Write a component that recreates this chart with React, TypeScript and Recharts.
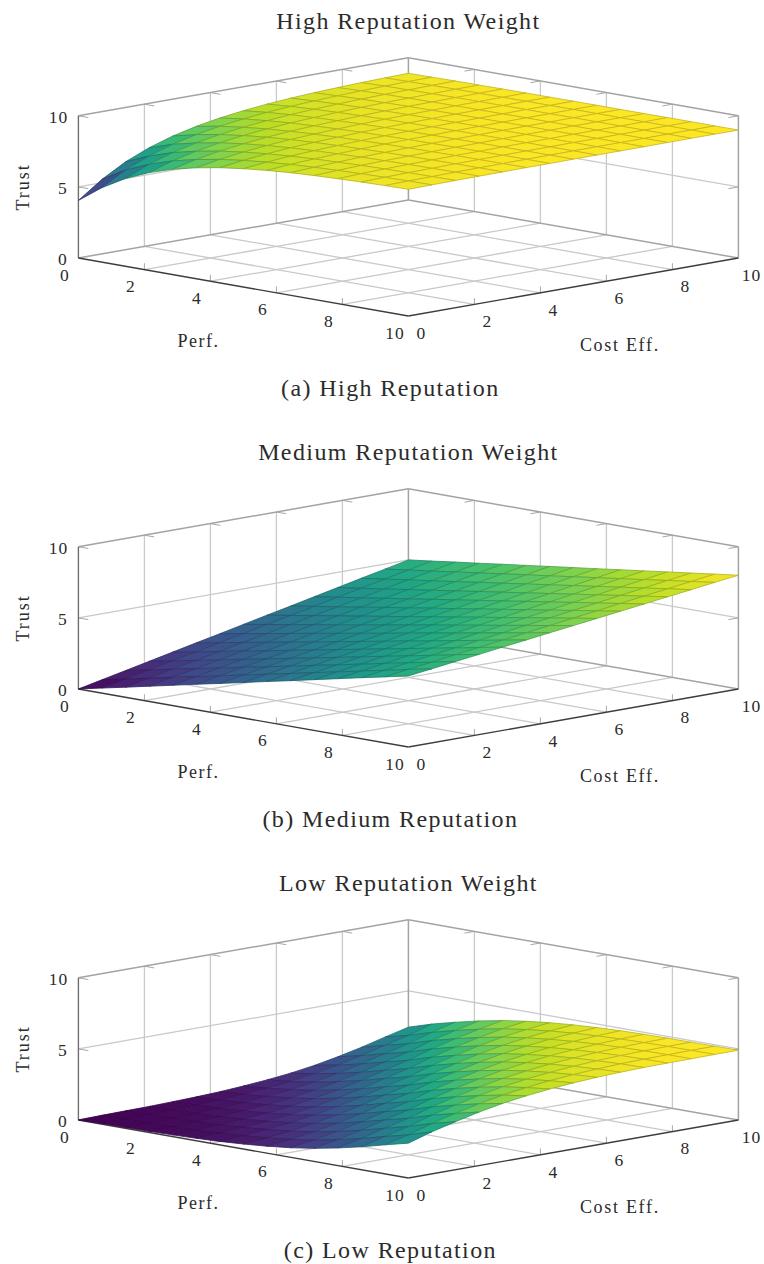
import { ScatterChart, Scatter, XAxis, YAxis } from "recharts";

const FONT = "'Liberation Serif', serif";

// Sample positions on both horizontal axes (15 samples per axis)
const samples = [0, 0.714, 1.429, 2.143, 2.857, 3.571, 4.286, 5, 5.714, 6.429, 7.143, 7.857, 8.571, 9.286, 10];

const perfTicks = [0, 2, 4, 6, 8, 10];
const costTicks = [0, 2, 4, 6, 8, 10];
const trustTicks = [0, 5, 10];

// Trust values: rows are Cost Eff., columns are Perf.
const highTrust = [
  [4.05, 5.24, 6.18, 6.88, 7.41, 7.8, 8.1, 8.32, 8.49, 8.62, 8.71, 8.78, 8.84, 8.88, 8.91],
  [5.24, 6.18, 6.88, 7.41, 7.8, 8.1, 8.32, 8.49, 8.62, 8.71, 8.78, 8.84, 8.88, 8.91, 8.93],
  [6.18, 6.88, 7.41, 7.8, 8.1, 8.32, 8.49, 8.62, 8.71, 8.78, 8.84, 8.88, 8.91, 8.93, 8.95],
  [6.88, 7.41, 7.8, 8.1, 8.32, 8.49, 8.62, 8.71, 8.78, 8.84, 8.88, 8.91, 8.93, 8.95, 8.96],
  [7.41, 7.8, 8.1, 8.32, 8.49, 8.62, 8.71, 8.78, 8.84, 8.88, 8.91, 8.93, 8.95, 8.96, 8.97],
  [7.8, 8.1, 8.32, 8.49, 8.62, 8.71, 8.78, 8.84, 8.88, 8.91, 8.93, 8.95, 8.96, 8.97, 8.98],
  [8.1, 8.32, 8.49, 8.62, 8.71, 8.78, 8.84, 8.88, 8.91, 8.93, 8.95, 8.96, 8.97, 8.98, 8.98],
  [8.32, 8.49, 8.62, 8.71, 8.78, 8.84, 8.88, 8.91, 8.93, 8.95, 8.96, 8.97, 8.98, 8.98, 8.99],
  [8.49, 8.62, 8.71, 8.78, 8.84, 8.88, 8.91, 8.93, 8.95, 8.96, 8.97, 8.98, 8.98, 8.99, 8.99],
  [8.62, 8.71, 8.78, 8.84, 8.88, 8.91, 8.93, 8.95, 8.96, 8.97, 8.98, 8.98, 8.99, 8.99, 8.99],
  [8.71, 8.78, 8.84, 8.88, 8.91, 8.93, 8.95, 8.96, 8.97, 8.98, 8.98, 8.99, 8.99, 8.99, 8.99],
  [8.78, 8.84, 8.88, 8.91, 8.93, 8.95, 8.96, 8.97, 8.98, 8.98, 8.99, 8.99, 8.99, 8.99, 9],
  [8.84, 8.88, 8.91, 8.93, 8.95, 8.96, 8.97, 8.98, 8.98, 8.99, 8.99, 8.99, 8.99, 9, 9],
  [8.88, 8.91, 8.93, 8.95, 8.96, 8.97, 8.98, 8.98, 8.99, 8.99, 8.99, 8.99, 9, 9, 9],
  [8.91, 8.93, 8.95, 8.96, 8.97, 8.98, 8.98, 8.99, 8.99, 8.99, 8.99, 9, 9, 9, 9],
];

const mediumTrust = [
  [0, 0.36, 0.71, 1.07, 1.43, 1.79, 2.14, 2.5, 2.86, 3.21, 3.57, 3.93, 4.29, 4.64, 5],
  [0.36, 0.7, 1.05, 1.4, 1.74, 2.09, 2.44, 2.79, 3.13, 3.48, 3.83, 4.17, 4.52, 4.87, 5.21],
  [0.71, 1.05, 1.39, 1.72, 2.06, 2.4, 2.73, 3.07, 3.41, 3.74, 4.08, 4.42, 4.76, 5.09, 5.43],
  [1.07, 1.4, 1.72, 2.05, 2.38, 2.7, 3.03, 3.36, 3.68, 4.01, 4.34, 4.66, 4.99, 5.32, 5.64],
  [1.43, 1.74, 2.06, 2.38, 2.69, 3.01, 3.33, 3.64, 3.96, 4.27, 4.59, 4.91, 5.22, 5.54, 5.86],
  [1.79, 2.09, 2.4, 2.7, 3.01, 3.32, 3.62, 3.93, 4.23, 4.54, 4.85, 5.15, 5.46, 5.77, 6.07],
  [2.14, 2.44, 2.73, 3.03, 3.33, 3.62, 3.92, 4.21, 4.51, 4.81, 5.1, 5.4, 5.69, 5.99, 6.29],
  [2.5, 2.79, 3.07, 3.36, 3.64, 3.93, 4.21, 4.5, 4.79, 5.07, 5.36, 5.64, 5.93, 6.21, 6.5],
  [2.86, 3.13, 3.41, 3.68, 3.96, 4.23, 4.51, 4.79, 5.06, 5.34, 5.61, 5.89, 6.16, 6.44, 6.71],
  [3.21, 3.48, 3.74, 4.01, 4.28, 4.54, 4.81, 5.07, 5.34, 5.6, 5.87, 6.13, 6.4, 6.66, 6.93],
  [3.57, 3.83, 4.08, 4.34, 4.59, 4.85, 5.1, 5.36, 5.61, 5.87, 6.12, 6.38, 6.63, 6.89, 7.14],
  [3.93, 4.17, 4.42, 4.66, 4.91, 5.15, 5.4, 5.64, 5.89, 6.13, 6.38, 6.62, 6.87, 7.11, 7.36],
  [4.29, 4.52, 4.76, 4.99, 5.22, 5.46, 5.69, 5.93, 6.16, 6.4, 6.63, 6.87, 7.1, 7.34, 7.57],
  [4.64, 4.87, 5.09, 5.32, 5.54, 5.77, 5.99, 6.21, 6.44, 6.66, 6.89, 7.11, 7.34, 7.56, 7.79],
  [5, 5.21, 5.43, 5.64, 5.86, 6.07, 6.29, 6.5, 6.71, 6.93, 7.14, 7.36, 7.57, 7.79, 8],
];

const lowTrust = [
  [0, 0.04, 0.06, 0.08, 0.12, 0.17, 0.24, 0.35, 0.49, 0.67, 0.92, 1.24, 1.61, 2.04, 2.45],
  [0.04, 0.06, 0.08, 0.12, 0.17, 0.24, 0.35, 0.49, 0.67, 0.92, 1.24, 1.61, 2.04, 2.45, 2.96],
  [0.06, 0.08, 0.12, 0.17, 0.24, 0.35, 0.49, 0.67, 0.92, 1.24, 1.61, 2.04, 2.45, 2.96, 3.38],
  [0.08, 0.12, 0.17, 0.24, 0.35, 0.49, 0.67, 0.92, 1.24, 1.61, 2.04, 2.45, 2.96, 3.38, 3.76],
  [0.12, 0.17, 0.24, 0.35, 0.49, 0.67, 0.92, 1.24, 1.61, 2.04, 2.45, 2.96, 3.38, 3.76, 4.08],
  [0.17, 0.24, 0.35, 0.49, 0.67, 0.92, 1.24, 1.61, 2.04, 2.45, 2.96, 3.38, 3.76, 4.08, 4.32],
  [0.24, 0.35, 0.49, 0.67, 0.92, 1.24, 1.61, 2.04, 2.45, 2.96, 3.38, 3.76, 4.08, 4.32, 4.51],
  [0.35, 0.49, 0.67, 0.92, 1.24, 1.61, 2.04, 2.45, 2.96, 3.38, 3.76, 4.08, 4.32, 4.51, 4.65],
  [0.49, 0.67, 0.92, 1.24, 1.61, 2.04, 2.45, 2.96, 3.38, 3.76, 4.08, 4.32, 4.51, 4.65, 4.75],
  [0.67, 0.92, 1.24, 1.61, 2.04, 2.45, 2.96, 3.38, 3.76, 4.08, 4.32, 4.51, 4.65, 4.75, 4.82],
  [0.92, 1.24, 1.61, 2.04, 2.45, 2.96, 3.38, 3.76, 4.08, 4.32, 4.51, 4.65, 4.75, 4.82, 4.86],
  [1.24, 1.61, 2.04, 2.45, 2.96, 3.38, 3.76, 4.08, 4.32, 4.51, 4.65, 4.75, 4.82, 4.86, 4.88],
  [1.61, 2.04, 2.45, 2.96, 3.38, 3.76, 4.08, 4.32, 4.51, 4.65, 4.75, 4.82, 4.86, 4.88, 4.89],
  [2.04, 2.45, 2.96, 3.38, 3.76, 4.08, 4.32, 4.51, 4.65, 4.75, 4.82, 4.86, 4.88, 4.89, 4.9],
  [2.45, 2.96, 3.38, 3.76, 4.08, 4.32, 4.51, 4.65, 4.75, 4.82, 4.86, 4.88, 4.89, 4.9, 4.91],
];

const viridis = [
  [68, 1, 84], [72, 36, 117], [65, 68, 135], [53, 95, 141], [42, 120, 142], [33, 145, 140],
  [34, 168, 132], [68, 191, 112], [122, 209, 81], [189, 223, 38], [253, 231, 37],
];

// isometric-style view: plot x/y/z to the two chart axes
const project = (x: number, y: number, z: number) => ({
  u: x + y,
  v: 5.8 * (y - x) + 14.22 * z,
});

const WIDTH = 764;
const HEIGHT = 402;
const uDomain = [-78.4 / 33, (WIDTH - 78.4) / 33];
const vDomain = [258 - HEIGHT, 258];

function mapped(t: number, shade = 1) {
  const pos = Math.min(Math.max(t, 0), 1) * (viridis.length - 1);
  const i = Math.min(Math.floor(pos), viridis.length - 2);
  const f = pos - i;
  const c = viridis[i].map((a, k) => Math.round((a + (viridis[i + 1][k] - a) * f) * shade));
  return `rgb(${c.join(",")})`;
}

const NoMark = () => null;

function TextMark(props: any) {
  const { cx, cy, payload } = props;
  const x = cx + (payload.dx ?? 0);
  const y = cy + (payload.dy ?? 0);
  return (
    <text
      x={x}
      y={y}
      textAnchor="middle"
      dominantBaseline="central"
      fontFamily={FONT}
      fontSize={payload.size}
      letterSpacing={payload.spacing ?? 0}
      fill="#2b2b2b"
      transform={payload.rotate ? `rotate(${payload.rotate} ${x} ${y})` : undefined}
    >
      {payload.text}
    </text>
  );
}

function segment(key: string, a: number[], b: number[], stroke: string, width: number) {
  return (
    <Scatter
      key={key}
      data={[project(a[0], a[1], a[2]), project(b[0], b[1], b[2])]}
      line={{ stroke, strokeWidth: width }}
      shape={NoMark}
      isAnimationActive={false}
    />
  );
}

function TrustSurface({ title, caption, trust, top }: { title: string; caption: string; trust: number[][]; top: number }) {
  const flat = trust.flat();
  const min = Math.min(...flat);
  const max = Math.max(...flat);

  const grid: any[] = [];
  const GRID = "#c9c9c9";
  const FRAME = "#a3a3a3";
  const TICK = "#a8a8a8";

  perfTicks.slice(1, -1).forEach((t) => {
    grid.push(segment(`fx${t}`, [t, 0, 0], [t, 10, 0], GRID, 1.3));
    grid.push(segment(`wx${t}`, [t, 10, 0], [t, 10, 10], GRID, 1.3));
    grid.push(segment(`tx${t}`, [t, 0, 0], [t, 0, 0.45], TICK, 1));
    grid.push(segment(`mx${t}`, [t, 10, 10], [t, 9.7, 10], TICK, 1));
  });
  costTicks.slice(1, -1).forEach((t) => {
    grid.push(segment(`fy${t}`, [0, t, 0], [10, t, 0], GRID, 1.3));
    grid.push(segment(`wy${t}`, [0, t, 0], [0, t, 10], GRID, 1.3));
    grid.push(segment(`ty${t}`, [10, t, 0], [10, t, 0.45], TICK, 1));
    grid.push(segment(`my${t}`, [0, t, 10], [0.3, t, 10], TICK, 1));
  });
  grid.push(segment("z5a", [0, 0, 5], [0, 10, 5], GRID, 1.3));
  grid.push(segment("z5b", [0, 10, 5], [10, 10, 5], GRID, 1.3));
  grid.push(segment("t5a", [0, 0, 5], [0.3, 0, 5], TICK, 1));
  grid.push(segment("t5b", [10, 10, 5], [10, 9.7, 5], TICK, 1));
  grid.push(segment("t10a", [0, 0, 10], [0.3, 0, 10], TICK, 1));
  grid.push(segment("t10b", [10, 10, 10], [10, 9.7, 10], TICK, 1));

  // box outline
  const frame = [
    segment("b1", [0, 0, 10], [0, 10, 10], FRAME, 1.5),
    segment("b2", [0, 10, 10], [10, 10, 10], FRAME, 1.5),
    segment("b3", [0, 10, 0], [0, 10, 10], FRAME, 1.5),
    segment("b4", [10, 10, 0], [10, 10, 10], FRAME, 1.5),
    segment("b5", [0, 0, 0], [0, 10, 0], FRAME, 1.5),
    segment("b6", [0, 10, 0], [10, 10, 0], FRAME, 1.5),
    segment("b7", [0, 0, 0], [0, 0, 10], "#6e6e6e", 1.4),
    segment("b8", [0, 0, 0], [10, 0, 0], "#3d3d3d", 1.4),
    segment("b9", [10, 0, 0], [10, 10, 0], "#3d3d3d", 1.4),
  ];

  // painter's order: far rows first
  const cells: any[] = [];
  for (let j = samples.length - 2; j >= 0; j--) {
    for (let i = 0; i < samples.length - 1; i++) {
      const z00 = trust[j][i];
      const z10 = trust[j][i + 1];
      const z11 = trust[j + 1][i + 1];
      const z01 = trust[j + 1][i];
      const t = ((z00 + z10 + z11 + z01) / 4 - min) / (max - min);
      const data = [
        project(samples[i], samples[j], z00),
        project(samples[i + 1], samples[j], z10),
        project(samples[i + 1], samples[j + 1], z11),
        project(samples[i], samples[j + 1], z01),
        project(samples[i], samples[j], z00),
      ];
      cells.push(
        <Scatter
          key={`c${j}-${i}`}
          data={data}
          line={{ fill: mapped(t), stroke: mapped(t, 0.78), strokeWidth: 0.8 }}
          shape={NoMark}
          isAnimationActive={false}
        />
      );
    }
  }

  const labels = [
    ...perfTicks.map((t) => ({ ...project(t, 0, 0), dx: -13.5, dy: 16.5, text: String(t), size: 17.5, spacing: 1 })),
    ...costTicks.map((t) => ({ ...project(10, t, 0), dx: 13, dy: 16.8, text: String(t), size: 17.5, spacing: 1 })),
    ...trustTicks.map((t) => ({ ...project(0, 0, t), dx: t === 10 ? -20 : -15.5, dy: 0.7, text: String(t), size: 17.5, spacing: 1 })),
    { ...project(5, 0, 0), dx: -45, dy: 54, text: "Perf.", size: 18, spacing: 1.5 },
    { ...project(10, 5, 0), dx: 46.5, dy: 57.5, text: "Cost Eff.", size: 18, spacing: 1.7 },
    { ...project(0, 0, 5), dx: -55.5, dy: 0, text: "Trust", size: 18, spacing: 2, rotate: -90 },
    { ...project(5, 5, 0), dx: 0, dy: -237, text: title, size: 24, spacing: 1.4 },
    { ...project(5, 5, 0), dx: -18, dy: 130, text: caption, size: 24, spacing: 1.4 },
  ];

  return (
    <div style={{ position: "absolute", left: 0, top, width: WIDTH, height: HEIGHT }}>
      <ScatterChart width={WIDTH} height={HEIGHT} margin={{ top: 0, right: 0, bottom: 0, left: 0 }}>
        <XAxis hide type="number" dataKey="u" domain={uDomain} allowDataOverflow />
        <YAxis hide type="number" dataKey="v" domain={vDomain} allowDataOverflow />
        {grid}
        {frame}
        {cells}
        <Scatter data={labels} shape={TextMark} isAnimationActive={false} />
      </ScatterChart>
    </div>
  );
}

export default function App() {
  return (
    <div style={{ position: "absolute", left: 0, top: 0, width: WIDTH, height: 1264, overflow: "hidden", background: "#fff" }}>
      <TrustSurface title="High Reputation Weight" caption="(a) High Reputation" trust={highTrust} top={0} />
      <TrustSurface title="Medium Reputation Weight" caption="(b) Medium Reputation" trust={mediumTrust} top={431.3} />
      <TrustSurface title="Low Reputation Weight" caption="(c) Low Reputation" trust={lowTrust} top={862} />
    </div>
  );
}
